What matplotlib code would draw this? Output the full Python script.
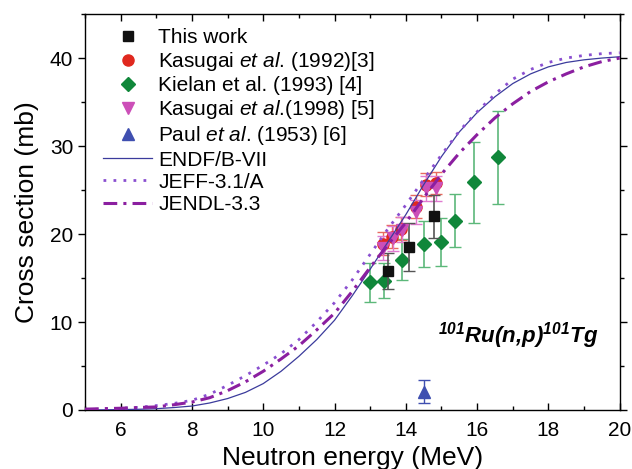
import numpy as np
import matplotlib
matplotlib.use("Agg")
import matplotlib.pyplot as plt
from matplotlib.ticker import MultipleLocator

plt.rcParams['font.family'] = ['Liberation Sans', 'DejaVu Sans']
plt.rcParams['mathtext.fontset'] = 'custom'
plt.rcParams['mathtext.rm'] = 'Liberation Sans'
plt.rcParams['mathtext.it'] = 'Liberation Sans:italic'
plt.rcParams['mathtext.bf'] = 'Liberation Sans:bold:italic'

# evaluated curves
e_eval = [5, 5.5, 6, 6.5, 7, 7.5, 8, 8.5, 9, 9.5, 10, 10.5, 11, 11.5, 12, 12.5,
          13, 13.5, 14, 14.5, 15, 15.5, 16, 16.5, 17, 17.5, 18, 18.5, 19, 19.5, 20]
endf = [0.0, 0.02, 0.05, 0.08, 0.15, 0.28, 0.45, 0.8, 1.3, 2.0, 3.0, 4.4, 6.1, 8.0, 10.2, 13.0,
        16.0, 19.1, 22.2, 25.6, 28.8, 31.6, 33.8, 35.6, 37.1, 38.2, 39.0, 39.5, 39.8, 40.0, 40.15]
jeff = [0.05, 0.1, 0.2, 0.3, 0.5, 0.75, 1.1, 1.8, 2.8, 3.9, 5.1, 6.4, 8.0, 10.0, 12.2, 14.8,
        17.7, 20.6, 23.3, 26.2, 29.0, 31.7, 33.9, 35.9, 37.6, 38.7, 39.5, 40.0, 40.3, 40.5, 40.6]
jendl = [0.1, 0.15, 0.2, 0.28, 0.35, 0.6, 0.9, 1.4, 2.2, 3.2, 4.4, 5.8, 7.3, 9.1, 11.0, 13.5,
         16.2, 18.8, 21.3, 24.1, 26.8, 29.2, 31.3, 33.2, 34.8, 36.2, 37.3, 38.2, 39.0, 39.6, 40.0]

# measurements
tw_e = [13.49, 14.1, 14.8]
tw_y = [15.8, 18.5, 22.0]
tw_err = [2.0, 2.7, 2.4]

k92_e = [13.37, 13.6, 13.86, 14.29, 14.57, 14.86]
k92_y = [18.9, 19.7, 20.6, 23.1, 25.6, 25.8]
k92_err = [1.3, 1.3, 1.3, 1.3, 1.3, 1.3]

kie_e = [12.99, 13.4, 13.89, 14.5, 15.0, 15.39, 15.9, 16.6]
kie_y = [14.5, 14.7, 17.1, 18.9, 19.1, 21.5, 25.9, 28.7]
kie_err = [2.25, 2.0, 2.3, 2.6, 2.7, 3.0, 4.6, 5.3]

k98_e = [13.37, 13.63, 13.89, 14.29, 14.58, 14.86]
k98_y = [18.4, 19.5, 20.5, 22.5, 25.2, 25.2]
k98_err = [1.4, 1.4, 1.4, 1.4, 1.4, 1.4]

paul_e = [14.5]
paul_y = [2.1]
paul_err = [1.3]

fig = plt.figure(figsize=(6.32, 4.69), dpi=100)
ax = fig.add_axes([0.1345, 0.1258, 0.846, 0.8442])

# error bars first (no legend), then the markers
ax.errorbar(tw_e, tw_y, yerr=tw_err, fmt='none', ecolor='#555555', capsize=4, elinewidth=1.2, zorder=4)
ax.errorbar(k92_e, k92_y, yerr=k92_err, fmt='none', ecolor='#e86a60', capsize=4, elinewidth=1.0, zorder=3)
ax.errorbar(kie_e, kie_y, yerr=kie_err, fmt='none', ecolor='#5cb87a', capsize=4, elinewidth=1.2, zorder=2)
ax.errorbar(k98_e, k98_y, yerr=k98_err, fmt='none', ecolor='#e07ad0', capsize=4, elinewidth=1.0, zorder=3)
ax.errorbar(paul_e, paul_y, yerr=paul_err, fmt='none', ecolor='#3f4fb0', capsize=4, elinewidth=1.0, zorder=3)

ax.plot(tw_e, tw_y, 's', color='#111111', ms=7, ls='none', label='This work', zorder=5)
ax.plot(k92_e, k92_y, 'o', color='#e0281e', ms=8, ls='none',
        label=r'Kasugai $\mathit{et\ al}$. (1992)[3]', zorder=4)
ax.plot(kie_e, kie_y, 'D', color='#10873a', ms=7, ls='none',
        label='Kielan et al. (1993) [4]', zorder=3)
ax.plot(k98_e, k98_y, 'v', color='#cc4fb8', ms=8, ls='none',
        label=r'Kasugai $\mathit{et\ al}$.(1998) [5]', zorder=4)
ax.plot(paul_e, paul_y, '^', color='#3f4fb0', ms=8, ls='none',
        label=r'Paul $\mathit{et\ al}$. (1953) [6]', zorder=4)

ax.plot(e_eval, endf, '-', color='#3b3b9c', lw=0.9, label='ENDF/B-VII', zorder=6)
ax.plot(e_eval, jeff, color='#8a4fd0', lw=2.0, dashes=(1, 2.6), dash_capstyle='butt',
        label='JEFF-3.1/A', zorder=6)
ax.plot(e_eval, jendl, color='#8b1fa0', lw=2.2, dashes=(4.5, 2, 1, 2),
        label='JENDL-3.3', zorder=6)

ax.set_xlim(5, 20)
ax.set_ylim(0, 45)
ax.xaxis.set_major_locator(MultipleLocator(2))
ax.xaxis.set_minor_locator(MultipleLocator(1))
ax.yaxis.set_major_locator(MultipleLocator(10))
ax.yaxis.set_minor_locator(MultipleLocator(5))
ax.set_xticks(range(6, 21, 2))
ax.tick_params(axis='x', which='both', direction='in', top=True, labelsize=15, pad=8)
ax.tick_params(axis='y', which='both', direction='out', labelsize=15)
ax.tick_params(which='major', length=5, width=1)
ax.tick_params(which='minor', length=3, width=1)
ax.tick_params(axis='y', which='both', right=True)
for s in ax.spines.values():
    s.set_linewidth(1.0)

ax.set_xlabel('Neutron energy (MeV)', fontsize=19, labelpad=4)
ax.set_ylabel('Cross section (mb)', fontsize=19, labelpad=8)

ax.text(17.15, 8.5, r'$^{\mathbf{101}}$Ru(n,p)$^{\mathbf{101}}$Tg',
        fontsize=16, fontweight='bold', fontstyle='italic', ha='center', va='center')

ax.legend(loc='upper left', bbox_to_anchor=(0.034, 0.965), frameon=False, fontsize=15,
          borderpad=0, borderaxespad=0, labelspacing=0.15, handlelength=2.35,
          handletextpad=0.3)

fig.savefig('out.png', dpi=100)
